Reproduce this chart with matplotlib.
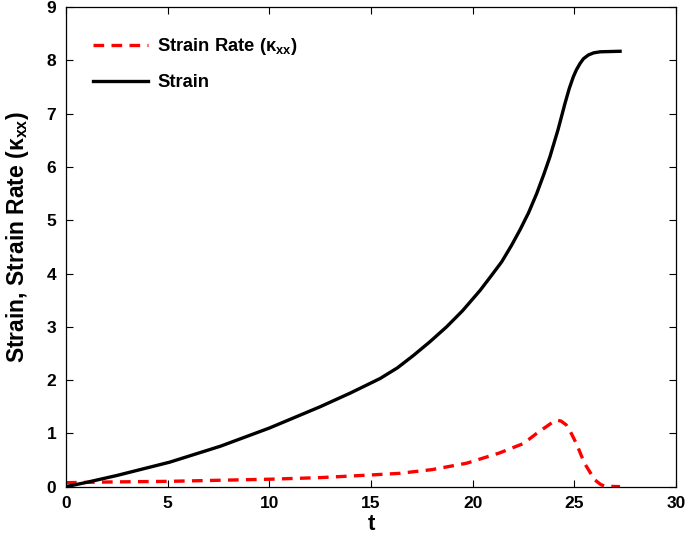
import matplotlib
matplotlib.use("Agg")
from matplotlib import pyplot as plt

plt.rcParams['font.family'] = ['Liberation Sans', 'DejaVu Sans']
plt.rcParams['font.weight'] = 'bold'
plt.rcParams['mathtext.fontset'] = 'custom'
plt.rcParams['mathtext.rm'] = 'Liberation Sans:bold'
plt.rcParams['mathtext.it'] = 'Liberation Sans:bold'
plt.rcParams['mathtext.bf'] = 'Liberation Sans:bold'

# strain vs time
t_strain = [0.0, 1.0, 2.5, 5.1, 7.6, 10.0, 12.5, 14.0, 15.45, 16.3, 17.08,
            17.9, 18.72, 19.5, 20.36, 20.9, 21.43, 21.9, 22.33, 22.75, 23.15,
            23.5, 23.8, 24.2, 24.54, 24.75, 24.95, 25.1, 25.28, 25.45, 25.69,
            25.95, 26.27, 27.25]
strain = [0.0, 0.08, 0.21, 0.46, 0.76, 1.10, 1.50, 1.76, 2.03, 2.23, 2.46,
          2.72, 3.00, 3.30, 3.68, 3.95, 4.22, 4.52, 4.82, 5.14, 5.50,
          5.86, 6.19, 6.70, 7.19, 7.47, 7.69, 7.82, 7.94, 8.03, 8.10,
          8.14, 8.16, 8.17]

# strain rate vs time
t_rate = [0.0, 2.5, 5.0, 7.5, 10.0, 12.5, 15.0, 16.4, 18.0, 19.7, 21.3, 22.5,
          23.15, 23.6, 23.97, 24.13, 24.35, 24.6, 24.85, 25.1, 25.5, 26.0,
          26.3, 26.5, 27.25]
rate = [0.075, 0.09, 0.10, 0.12, 0.14, 0.17, 0.22, 0.25, 0.32, 0.44, 0.63, 0.81,
        1.00, 1.12, 1.22, 1.25, 1.23, 1.16, 1.00, 0.81, 0.44, 0.13,
        0.04, 0.01, 0.0]

x_ticks = [0, 5, 10, 15, 20, 25, 30]
y_ticks = [0, 1, 2, 3, 4, 5, 6, 7, 8, 9]

fig = plt.figure(figsize=(6.86, 5.41), dpi=100)
ax = fig.add_axes([0.0962, 0.1004, 0.8892, 0.8866])

ax.plot(t_rate, rate, color='#ff0000', linestyle='--', linewidth=2.4,
        dashes=(3.2, 2.2), label=r'Strain Rate ($\kappa_{xx}$)')
ax.plot(t_strain, strain, color='black', linewidth=2.4, label='Strain')

ax.set_xlim(0, 30)
ax.set_ylim(0, 9)
ax.set_xticks(x_ticks)
ax.set_yticks(y_ticks)
ax.tick_params(direction='in', top=True, right=True, length=5, width=0.8,
               labelsize=12.5, pad=7)
for s in ax.spines.values():
    s.set_linewidth(0.9)

ax.set_xlabel('t', fontsize=16, fontweight='bold', labelpad=2)
ax.set_ylabel(r'Strain, Strain Rate ($\kappa_{xx}$)', fontsize=16.5,
              fontweight='bold', labelpad=9)
ax.yaxis.set_label_coords(-0.058, 0.52)

leg = ax.legend(loc='upper left', frameon=False, fontsize=13.2,
                handlelength=3.0, handletextpad=0.5, borderaxespad=0.0,
                labelspacing=0.95, bbox_to_anchor=(0.032, 0.955))

fig.savefig('out.png', dpi=100)
